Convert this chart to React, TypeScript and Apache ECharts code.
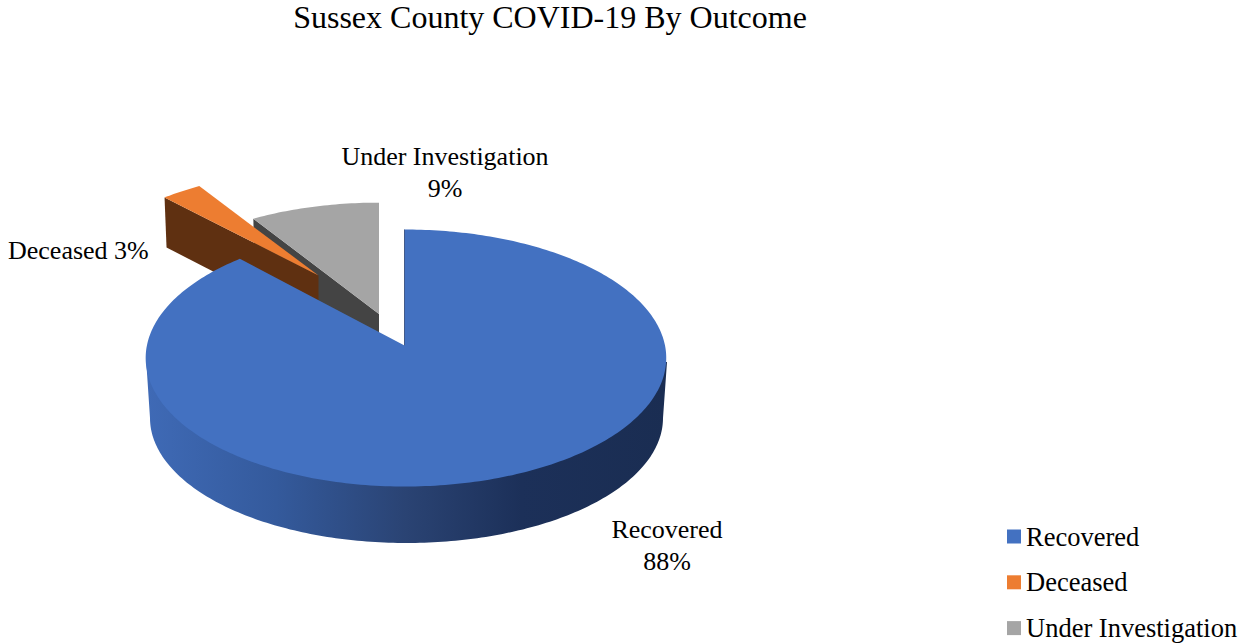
import React, { useEffect, useRef } from "react";
import * as echarts from "echarts";

const title = "Sussex County COVID-19 By Outcome";
const categories = ["Recovered", "Deceased", "Under Investigation"];
const percents = [88, 3, 9];
const topColors = ["#4371C1", "#ED7D31", "#A5A5A5"];
const wallColors = ["#2A4373", "#5F3011", "#444444"];

const FONT = "'Liberation Serif', 'Times New Roman', serif";
const W = 1242;
const H = 643;
const CX = 404.5;
const CY = 345.5;
const RX_LEFT = 257.6;
const RX_RIGHT = 260.5;
const RY = 127.3;
const PERSPECTIVE = 0.0973;

// Lower rim of the pie: half ellipse, joined to the top face's widest points
const RIM = { cx: 406.5, cy: 418, rx: 256.5, ry: 125, leftTop: [146, 358], rightTop: [667, 362] };

// Explosion offset + foreshortening per slice, in category order
const sliceLayout = [
  { ox: 0, oy: 0, sx: 1, sy: 1, depth: 56, dx: 0 },
  { ox: -86, oy: -70, sx: 0.935, sy: 0.9, depth: 50, dx: 2 },
  { ox: -25.5, oy: -31.5, sx: 0.985, sy: 0.96, depth: 50, dx: 1 },
];
const labelLayout = [
  { x: 667, y: 545, align: "center" },
  { x: 8, y: 250, align: "left" },
  { x: 445, y: 172, align: "center" },
];

const total = percents.reduce((a, b) => a + b, 0);

function project(angle: number, i: number): [number, number] {
  const L = sliceLayout[i];
  const X = Math.sin(angle);
  const Y = -Math.cos(angle);
  const s = 1 / (1 - PERSPECTIVE * Y);
  const rx = X > 0 ? RX_RIGHT : RX_LEFT;
  return [CX + L.ox + rx * X * s * L.sx, CY + L.oy + RY * Y * s * L.sy];
}

function arc(a0: number, a1: number, i: number) {
  const pts: [number, number][] = [];
  const n = Math.max(2, Math.ceil((Math.abs(a1 - a0) * 180) / Math.PI));
  for (let k = 0; k <= n; k++) pts.push(project(a0 + ((a1 - a0) * k) / n, i));
  return pts;
}

function rimPoints() {
  const pts: number[][] = [RIM.rightTop];
  for (let d = 0; d <= 180; d++) {
    const t = (d * Math.PI) / 180;
    pts.push([RIM.cx + RIM.rx * Math.cos(t), RIM.cy + RIM.ry * Math.sin(t)]);
  }
  pts.push(RIM.leftTop);
  return pts;
}

function makeRenderItem(i: number) {
  return (_params: any, api: any) => {
    const value = api.value(0);
    const before = percents.slice(0, i).reduce((a, b) => a + b, 0);
    const a0 = (before / total) * Math.PI * 2;
    const a1 = a0 + (value / total) * Math.PI * 2;
    const L = sliceLayout[i];
    const apex: [number, number] = [CX + L.ox, CY + L.oy];
    const children: any[] = [];

    if (i === 0) {
      children.push({
        type: "polygon",
        shape: { points: rimPoints() },
        style: {
          fill: new echarts.graphic.LinearGradient(0, 0, 1, 0, [
            { offset: 0, color: "#3F6AB6" },
            { offset: 0.25, color: "#345A9C" },
            { offset: 0.5, color: "#2A4373" },
            { offset: 0.72, color: "#1C3059" },
            { offset: 1, color: "#1A2D52" },
          ]),
        },
      });
    } else {
      // Cut face of an exploded slice
      const corner = project(a0, i);
      children.push({
        type: "polygon",
        shape: {
          points: [
            apex,
            corner,
            [corner[0] + L.dx, corner[1] + L.depth],
            [apex[0], apex[1] + L.depth],
          ],
        },
        style: { fill: wallColors[i] },
      });
    }

    children.push({
      type: "polygon",
      shape: { points: [apex, ...arc(a0, a1, i)] },
      style: { fill: topColors[i] },
    });

    if (i === 0) {
      const start = project(a0, i);
      children.push({
        type: "line",
        shape: { x1: apex[0], y1: apex[1], x2: start[0], y2: start[1] },
        style: { stroke: wallColors[0], lineWidth: 0.8 },
      });
    }

    const lab = labelLayout[i];
    children.push({
      type: "text",
      style: {
        text:
          i === 1
            ? `${categories[i]} ${value}%`
            : `${categories[i]}\n${value}%`,
        x: lab.x,
        y: lab.y,
        align: lab.align,
        verticalAlign: "middle",
        fontFamily: FONT,
        fontSize: 26,
        lineHeight: 32,
        fill: "#000000",
      },
    });
    return { type: "group", children };
  };
}

export default function App() {
  const ref = useRef<HTMLDivElement>(null);
  useEffect(() => {
    document.body.style.margin = "0";
    const chart = echarts.init(ref.current!, undefined, { renderer: "svg" });
    const drawOrder = [2, 1, 0];
    chart.setOption({
      animation: false,
      backgroundColor: "#FFFFFF",
      title: {
        text: title,
        left: 550,
        top: 1,
        padding: 0,
        textAlign: "center",
        textStyle: {
          fontFamily: FONT,
          fontSize: 32,
          fontWeight: "normal",
          color: "#000000",
        },
      },
      legend: {
        data: categories,
        orient: "vertical",
        left: 1007,
        top: 523,
        height: 120,
        padding: 0,
        itemWidth: 14,
        itemHeight: 14,
        itemGap: 18.8,
        icon: "rect",
        selectedMode: false,
        textStyle: {
          fontFamily: FONT,
          fontSize: 26.5,
          color: "#000000",
        },
      },
      series: drawOrder.map((i) => ({
        type: "custom",
        name: categories[i],
        coordinateSystem: "none",
        itemStyle: { color: topColors[i] },
        data: [[percents[i]]],
        renderItem: makeRenderItem(i),
        silent: true,
      })),
    });
    return () => chart.dispose();
  }, []);
  return <div ref={ref} style={{ width: W, height: H }} />;
}
